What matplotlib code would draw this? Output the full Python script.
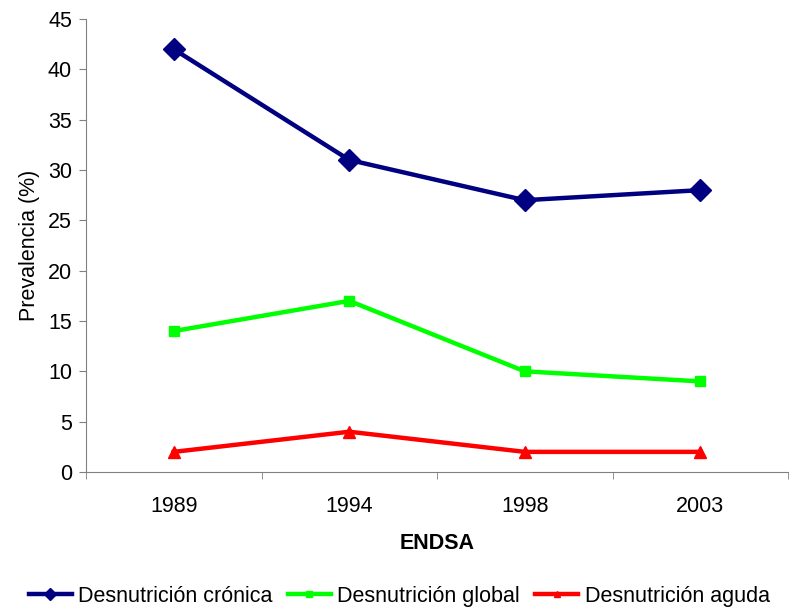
import matplotlib
matplotlib.use("Agg")
import matplotlib.pyplot as plt
import numpy as np

plt.rcParams['font.family'] = ['Liberation Sans', 'DejaVu Sans']

years = ['1989', '1994', '1998', '2003']
cronica = [42, 31, 27, 28]
global_ = [14, 17, 10, 9]
aguda = [2, 4, 2, 2]

fig = plt.figure(figsize=(7.89, 6.08), dpi=100)
ax = fig.add_axes([86/789, 1 - 472/608, 702/789, 453/608])

x = np.arange(len(years))
ax.plot(x, cronica, color='#000080', lw=3.2, marker='D', ms=11, label='Desnutrición crónica')
ax.plot(x, global_, color='#00FF00', lw=3.2, marker='s', ms=6.5, label='Desnutrición global')
ax.plot(x, aguda, color='#FF0000', lw=3.2, marker='^', ms=8, label='Desnutrición aguda')

ax.set_xlim(-0.5, 3.5)
ax.set_ylim(0, 45)
ax.set_yticks(range(0, 46, 5))
ax.set_xticks(x)
ax.set_xticklabels(years)
ax.set_xticks(np.arange(-0.5, 3.6, 1), minor=True)
ax.tick_params(axis='x', which='major', length=0, pad=17, labelsize=15.5)
ax.tick_params(axis='x', which='minor', length=5, color='#808080')
ax.tick_params(axis='y', length=5, color='#808080', labelsize=15.5, pad=5)

for s in ['top', 'right']:
    ax.spines[s].set_visible(False)
for s in ['left', 'bottom']:
    ax.spines[s].set_color('#808080')

ax.set_xlabel('ENDSA', fontsize=15.5, fontweight='bold', labelpad=12)
ax.set_ylabel('Prevalencia (%)', fontsize=15.5, labelpad=6)

fig.legend(loc='lower center', bbox_to_anchor=(0.506, -0.03), ncol=3, frameon=False,
           fontsize=15.5, handlelength=2.0, handletextpad=0.3, columnspacing=0.7,
           markerscale=0.6)

fig.savefig('out.png', dpi=100)
